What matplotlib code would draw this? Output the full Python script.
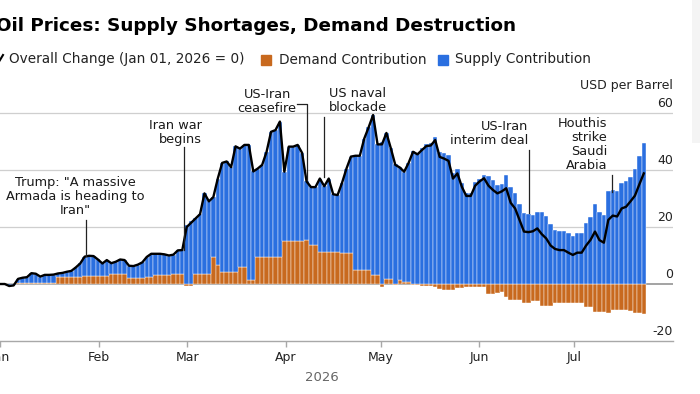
import numpy as np
import pandas as pd
import matplotlib
matplotlib.use("Agg")
import matplotlib.pyplot as plt
import matplotlib.dates as mdates
from matplotlib.lines import Line2D
from matplotlib.patches import Rectangle

# trading days shown in the chart
dates = pd.bdate_range("2026-01-01", "2026-07-23")

# overall change since Jan 01 (USD per barrel)
overall = [
    0.0, 0.0, -0.7, -0.5, 1.8, 2.2, 2.4, 3.8, 3.6, 2.6, 3.2, 3.2, 3.3, 3.7, 3.9, 4.3, 4.6, 5.8, 7.2, 9.6, 9.9, 9.8,
    8.6, 7.2, 8.4, 7.3, 7.8, 8.6, 8.4, 6.4, 6.3, 6.8, 7.6, 9.5, 10.6, 10.6, 10.6, 10.4, 10.0, 10.3, 11.8, 11.9,
    20.0, 21.5, 23.0, 24.5, 31.8, 29.0, 30.5, 37.0, 42.5, 43.0, 41.0, 48.3, 47.5, 48.8, 48.8, 39.5, 40.5, 41.8,
    46.4, 53.4, 54.0, 57.0,
    39.4, 48.2, 48.2, 48.8, 46.0, 36.0, 34.0, 34.0, 37.0, 34.3, 37.0, 31.5, 31.2, 35.5, 40.5, 44.7, 45.0, 45.0,
    51.0, 55.0, 59.3, 49.0,
    49.0, 53.0, 47.6, 41.8, 40.9, 39.4, 42.5, 46.4, 45.5, 47.0, 48.4, 48.6, 50.5, 44.6, 44.0, 43.2, 37.0, 38.8,
    34.1, 30.9, 30.9,
    34.5, 36.0, 37.1, 34.5, 33.0, 31.8, 32.5, 33.6, 28.5, 26.5, 22.5, 18.4, 18.2, 18.5, 19.5, 17.5, 16.0, 13.5,
    12.3, 11.9, 11.9, 11.0,
    10.2, 11.0, 11.0, 13.5, 15.5, 18.4, 15.4, 14.5, 22.5, 24.0, 23.7, 26.5, 27.1, 29.0, 31.0, 35.0, 38.8,
]

# demand contribution (orange bars)
demand = [
    0.0, 0.0, 0.0, 0.0, 0.2, 0.4, 0.4, 0.4, 0.4, 0.4, 0.4, 0.4, 0.4, 2.3, 2.3, 2.3, 2.3, 2.3, 2.3, 2.8, 2.8, 2.8,
    2.8, 2.8, 2.8, 3.4, 3.4, 3.4, 3.4, 2.0, 2.0, 2.0, 2.2, 2.4, 2.6, 3.0, 3.0, 3.0, 3.0, 3.5, 3.5, 3.5,
    -0.8, -0.6, 3.4, 3.4, 3.4, 3.4, 9.6, 6.7, 4.2, 4.2, 4.2, 4.2, 6.1, 6.1, 1.4, 1.4, 9.5, 9.5, 9.5, 9.5, 9.5, 9.5,
    15.0, 15.0, 15.0, 15.0, 15.0, 15.4, 13.7, 13.7, 11.3, 11.3, 11.3, 11.3, 11.3, 10.8, 10.8, 10.8, 4.9, 4.9,
    4.9, 4.9, 3.2, 3.2,
    -1.0, 1.8, 1.8, -0.3, 1.4, 0.8, 0.8, -0.4, -0.5, -0.7, -0.8, -0.8, -1.0, -1.8, -2.0, -2.2, -2.0, -1.5,
    -1.5, -1.2, -1.2,
    -1.2, -1.0, -1.2, -3.5, -3.5, -3.0, -2.7, -4.5, -5.6, -5.6, -5.6, -6.5, -6.5, -5.8, -5.8, -7.7, -7.7, -7.7,
    -6.8, -6.8, -6.8, -6.8,
    -6.8, -6.8, -6.8, -7.9, -7.9, -9.7, -9.7, -9.7, -10.0, -9.1, -9.1, -9.1, -9.1, -9.5, -10.0, -10.0, -10.5,
]

# supply contribution (blue bars)
supply = [
    0.0, 0.0, -0.7, -0.5, 1.6, 1.8, 2.0, 3.4, 3.2, 2.2, 2.8, 2.8, 2.9, 1.4, 1.6, 2.0, 2.3, 3.5, 4.9, 6.8, 7.1, 7.0,
    5.8, 4.4, 5.6, 3.9, 4.4, 5.2, 5.0, 4.4, 4.3, 4.8, 5.4, 7.1, 8.0, 7.6, 7.6, 7.4, 7.0, 6.8, 8.3, 8.4,
    20.8, 22.1, 19.6, 21.1, 28.4, 25.6, 20.9, 30.3, 38.3, 38.8, 36.8, 44.1, 41.4, 42.7, 47.4, 38.1, 31.0, 32.3,
    36.9, 43.9, 44.5, 47.5,
    24.4, 33.2, 33.2, 33.8, 31.0, 20.6, 20.3, 20.3, 25.7, 23.0, 25.7, 20.2, 19.9, 24.7, 29.7, 33.9, 40.1, 40.1,
    46.1, 50.1, 56.1, 45.8,
    50.0, 51.2, 45.8, 42.1, 39.5, 38.6, 41.7, 46.8, 46.0, 47.7, 49.2, 49.4, 51.5, 46.4, 46.0, 45.4, 39.0, 40.3,
    35.6, 32.1, 32.1,
    35.7, 37.0, 38.3, 38.0, 36.5, 34.8, 35.2, 38.1, 34.1, 32.1, 28.1, 24.9, 24.7, 24.3, 25.3, 25.2, 23.7, 21.2,
    19.1, 18.7, 18.7, 17.8,
    17.0, 17.8, 17.8, 21.4, 23.4, 28.1, 25.1, 24.2, 32.5, 33.1, 32.8, 35.6, 36.2, 37.5, 40.5, 45.0, 49.3,
]

yticks = [-20, 0, 20, 40, 60]
months = ["Jan", "Feb", "Mar", "Apr", "May", "Jun", "Jul"]

BLUE = "#2a6fe0"
ORANGE = "#c8691e"

overall = np.array(overall)
demand = np.array(demand)
supply = np.array(supply)
x0 = mdates.date2num(pd.Timestamp("2026-01-01"))
# trading days drawn as evenly spaced bars across the calendar span
dnum = mdates.date2num(dates)
x = np.linspace(dnum[0], dnum[-1], len(dnum))
bw = x[1] - x[0]

fig = plt.figure(figsize=(7, 3.94), dpi=100)
# faint grey strip at the top right edge of the screenshot
fig.add_artist(Rectangle((692 / 700, 1 - 143 / 394), 8 / 700, 143 / 394, transform=fig.transFigure,
                         facecolor="#f4f4f4", edgecolor="none", zorder=0))
ax = fig.add_axes([0.0, 0.1345, 0.9614, 0.6872])
ax.patch.set_alpha(0)

# stacked: positive demand sits under the supply bar
supply_bottom = np.where((demand > 0) & (supply > 0), demand, 0.0)
ax.bar(x, demand, width=bw, color=ORANGE, edgecolor="white", linewidth=0.3, zorder=2)
ax.bar(x, supply, width=bw, bottom=supply_bottom, color=BLUE, edgecolor="white", linewidth=0.3, zorder=2)
ax.plot(x, overall, color="black", linewidth=1.7, zorder=4, solid_joinstyle="round")

ax.set_xlim(x0 - 0.1, x0 + 212.2)
ax.set_ylim(-20, 75)

for v in [20, 40, 60]:
    ax.axhline(v, color="#cfcfcf", linewidth=0.9, zorder=1)
ax.axhline(0, color="#8a8a8a", linewidth=1.1, zorder=1)

for s in ["top", "right", "left"]:
    ax.spines[s].set_visible(False)
ax.spines["bottom"].set_color("#a8a8a8")
ax.spines["bottom"].set_linewidth(1.0)
ax.set_yticks([])

month_starts = mdates.date2num(pd.date_range("2026-01-01", periods=7, freq="MS"))
ax.set_xticks(month_starts)
ax.set_xticklabels(months)
ax.tick_params(axis="x", length=4, width=1, color="#a8a8a8", pad=3.5, labelsize=9, labelcolor="#222222")

for v in yticks:
    ax.annotate(str(v), xy=(1.0, v), xycoords=("axes fraction", "data"), xytext=(0, 4.3),
                textcoords="offset points", ha="right", va="baseline", fontsize=9, color="#222222")
ax.text(1.0, 68.4, "USD per Barrel", transform=ax.get_yaxis_transform(), ha="right", va="baseline",
        fontsize=9, color="#222222")

# event annotations
ann_kw = dict(fontsize=9.3, color="#1a1a1a", linespacing=1.1, zorder=6)
line_kw = dict(color="#222222", linewidth=0.9, clip_on=False, zorder=5)

ax.plot([x0 + 27.1] * 2, [9.8, 22.5], **line_kw)
ax.text(x0 + 23.7, 23.4, 'Trump: "A massive\nArmada is heading to\nIran"', ha="center", va="bottom", **ann_kw)

ax.plot([x0 + 57.8] * 2, [11.9, 48.2], **line_kw)
ax.text(x0 + 63.7, 48.4, "Iran war\nbegins", ha="right", va="bottom", **ann_kw)

ax.plot([x0 + 93.7, x0 + 96.9, x0 + 96.9], [63.2, 63.2, 36.5], **line_kw)
ax.text(x0 + 84.2, 59.2, "US-Iran\nceasefire", ha="center", va="bottom", **ann_kw)

ax.plot([x0 + 102.0] * 2, [37.6, 58.6], **line_kw)
ax.text(x0 + 103.8, 59.6, "US naval\nblockade", ha="left", va="bottom", **ann_kw)

ax.plot([x0 + 166.9] * 2, [24.9, 47.0], **line_kw)
ax.text(x0 + 166.6, 48.0, "US-Iran\ninterim deal", ha="right", va="bottom", **ann_kw)

ax.plot([x0 + 193.0] * 2, [32.4, 38.2], **line_kw)
ax.text(x0 + 191.5, 39.3, "Houthis\nstrike\nSaudi\nArabia", ha="right", va="bottom", **ann_kw)

# title and legend
fig.text(-4 / 700, 1 - 31 / 394, "Oil Prices: Supply Shortages, Demand Destruction",
         fontsize=13.2, fontweight="bold", color="black", ha="left", va="baseline")

ly = 1 - 63.5 / 394
fig.add_artist(Line2D([-3 / 700, 3 / 700], [1 - 65 / 394, 1 - 55 / 394], color="black", linewidth=1.5))
fig.text(9 / 700, ly, "Overall Change (Jan 01, 2026 = 0)", fontsize=9.8, color="#222222", va="baseline")
fig.add_artist(Line2D([265.5 / 700], [1 - 60 / 394], marker="s", markersize=6.5, color=ORANGE, linestyle="none"))
fig.text(279 / 700, ly, "Demand Contribution", fontsize=9.8, color="#222222", va="baseline")
fig.add_artist(Line2D([443 / 700], [1 - 60 / 394], marker="s", markersize=6.5, color=BLUE, linestyle="none"))
fig.text(455 / 700, ly, "Supply Contribution", fontsize=9.8, color="#222222", va="baseline")

fig.text(322 / 700, 1 - 381 / 394, "2026", fontsize=9.5, color="#666666", ha="center", va="baseline")

fig.savefig("out.png", dpi=100)
